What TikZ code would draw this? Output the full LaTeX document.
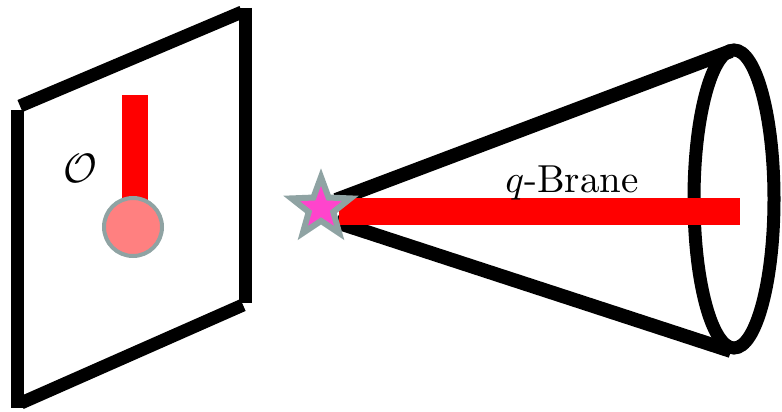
\documentclass[tikz,border=0pt]{standalone}
\usetikzlibrary{shapes.geometric}
\definecolor{edgegray}{HTML}{8FA3A3}
\definecolor{dotred}{HTML}{FF8080}
\definecolor{starpink}{HTML}{FF44CC}
\begin{document}
\begin{tikzpicture}[x=1pt,y=-1pt,
  frame/.style={line width=13pt, line cap=butt},
  conel/.style={line width=14pt, line cap=butt},
  brane/.style={fill=red, draw=none}]
\useasboundingbox (0,0) rectangle (782,412);
% plane
\draw[frame] (17,110) -- (17,408);
\draw[frame] (20,106) -- (242,12);
\draw[frame] (245,8) -- (245,303);
\draw[frame] (21,403) -- (243,305);
% operator with brane
\fill[brane] (122,95) rectangle (148,205);
\node[circle, draw=edgegray, line width=4pt, fill=dotred, minimum size=58pt, inner sep=0pt] (dot) at (133,227) {};
\node[scale=4.1, inner sep=0pt] (O) at (80,168) {$\mathcal{O}$};
% cone
\draw[conel] (336,200) -- (731,51);
\draw[conel] (336,222) -- (731,351);
\draw[line width=13pt] (734,199) ellipse [x radius=40pt, y radius=149pt];
\fill[brane] (339,198) rectangle (740,225);
\node[star, star points=5, star point ratio=2.4, minimum size=62pt, inner sep=0pt, draw=edgegray, line width=6pt, fill=starpink] (st) at (321,208) {};
\node[scale=3.9, inner sep=0pt, anchor=base] (lab) at (572,192) {$q$-Brane};
\end{tikzpicture}
\end{document}
